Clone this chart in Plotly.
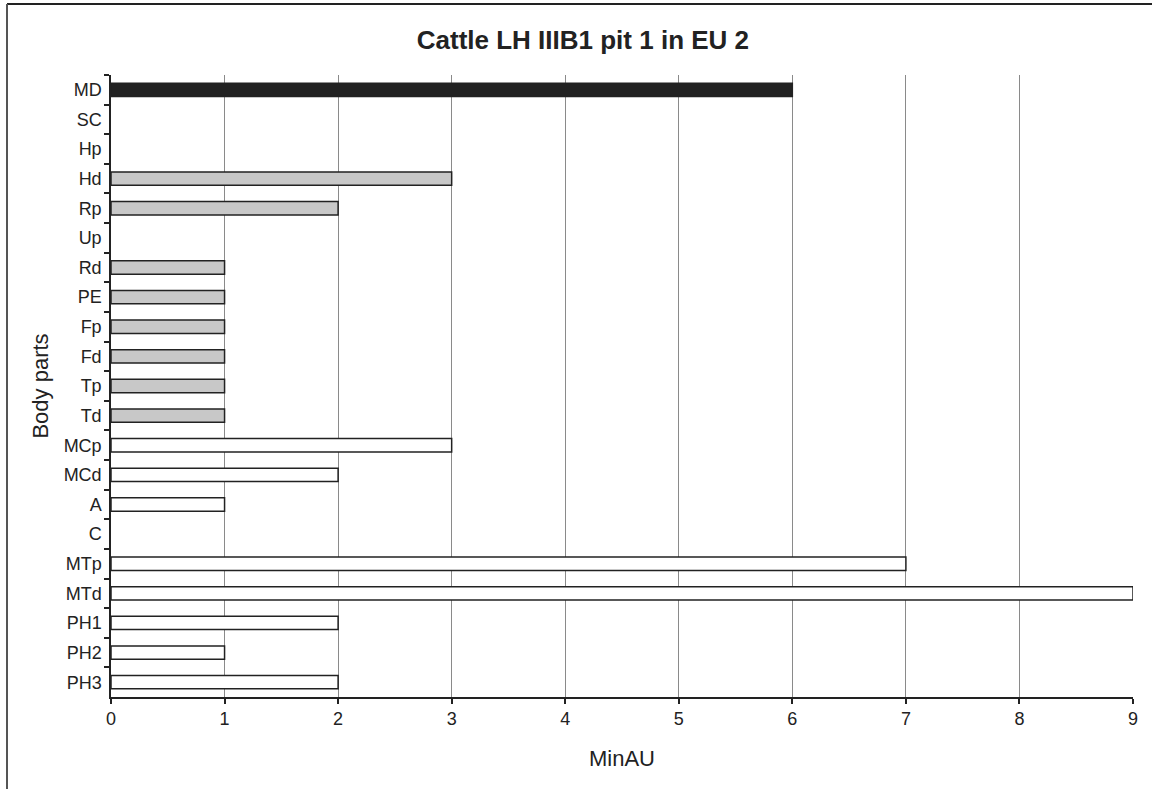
import plotly.graph_objects as go

# body parts, top to bottom
parts = ["MD", "SC", "Hp", "Hd", "Rp", "Up", "Rd", "PE", "Fp", "Fd", "Tp",
         "Td", "MCp", "MCd", "A", "C", "MTp", "MTd", "PH1", "PH2", "PH3"]
min_au = [6, 0, 0, 3, 2, 0, 1, 1, 1, 1, 1, 1, 3, 2, 1, 0, 7, 9, 2, 1, 2]

# bar fill by region of the skeleton
fills = ["#222222"] + ["#c8c8c8"] * 11 + ["#ffffff"] * 9
# no outline on empty bars
outlines = [1.5 if v else 0 for v in min_au]

fig = go.Figure(go.Bar(
    x=min_au, y=parts, orientation="h",
    marker=dict(color=fills, line=dict(color="#222222", width=outlines)),
    width=0.45,
))

axis_font = dict(family="Liberation Sans, Arial", size=18, color="#222222")

fig.update_layout(
    width=1152, height=789,
    margin=dict(l=111, r=19, t=75, b=92),
    paper_bgcolor="white", plot_bgcolor="white",
    showlegend=False,
    font=axis_font,
    title=dict(text="<b>Cattle LH IIIB1 pit 1 in EU 2</b>", x=0.506, xanchor="center",
               y=0.949, yanchor="middle",
               font=dict(family="Liberation Sans, Arial", size=26, color="#222222")),
    xaxis=dict(range=[0, 9], dtick=1, showgrid=True, gridcolor="#8a8a8a", gridwidth=1,
               showline=True, linecolor="#222222", linewidth=1.5,
               ticks="outside", ticklen=5, tickcolor="#222222", tickwidth=1.5,
               zeroline=False, tickfont=axis_font,
               title=dict(text="MinAU", font=dict(size=22, color="#222222"), standoff=22)),
    yaxis=dict(categoryorder="array", categoryarray=parts, autorange="reversed",
               showline=True, linecolor="#222222", linewidth=1.5,
               ticks="outside", ticklen=5, tickcolor="#222222", tickwidth=1.5,
               tickson="boundaries", showgrid=False, tickfont=axis_font,
               ticklabelstandoff=4,
               title=dict(text="Body parts", font=dict(size=22, color="#222222"), standoff=9)),
)

# outer frame (top and left edges visible)
fig.add_shape(type="line", xref="paper", yref="paper",
              x0=(7 - 111) / 1022, x1=(1152 - 111) / 1022,
              y0=(697 - 4) / 622, y1=(697 - 4) / 622,
              line=dict(color="#222222", width=2))
fig.add_shape(type="line", xref="paper", yref="paper",
              x0=(7 - 111) / 1022, x1=(7 - 111) / 1022,
              y0=(697 - 4) / 622, y1=(697 - 800) / 622,
              line=dict(color="#555555", width=2))

# drop the default page margin so the figure sits at the window corner
fig.write_html("out.html", config={"displayModeBar": False},
               post_script="document.body.style.margin='0';")
